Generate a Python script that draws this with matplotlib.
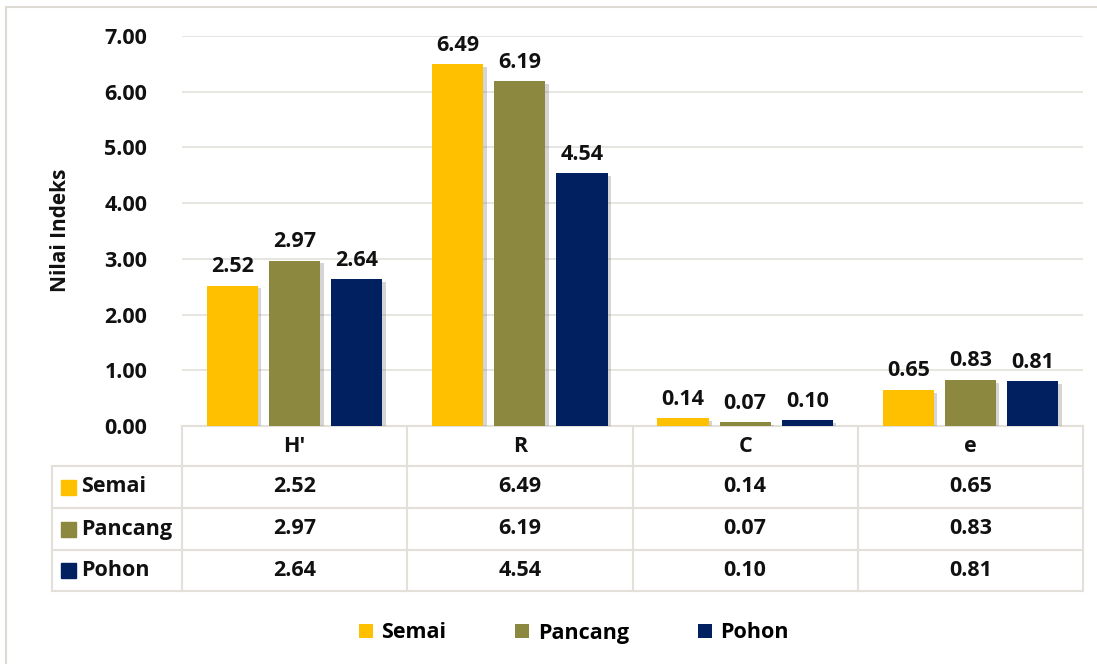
import matplotlib
matplotlib.use("Agg")
import matplotlib.pyplot as plt
import matplotlib.patheffects as pe
from matplotlib.patches import Rectangle
import numpy as np

plt.rcParams['font.family'] = ['Open Sans', 'DejaVu Sans']
plt.rcParams['font.weight'] = 'bold'

# data
categories = ["H'", "R", "C", "e"]
series = ["Semai", "Pancang", "Pohon"]
semai = [2.52, 6.49, 0.14, 0.65]
pancang = [2.97, 6.19, 0.07, 0.83]
pohon = [2.64, 4.54, 0.10, 0.81]
colors = ["#FFC000", "#8C8840", "#002060"]
yticks = [0, 1, 2, 3, 4, 5, 6, 7]

W, H = 1097, 664
fig = plt.figure(figsize=(W / 100, H / 100), dpi=100)
FS = 15.5
TXT = "#111111"

# pixel layout of plot area
left_px, right_px, top_px, bot_px = 182, 1083, 36, 426
ax = fig.add_axes([left_px / W, 1 - bot_px / H, (right_px - left_px) / W, (bot_px - top_px) / H])

x = np.arange(len(categories))
width = 0.227
step = 0.276
grid_col = "#E3E0DA"
shadow = [pe.SimplePatchShadow(offset=(2.5, -2), shadow_rgbFace="#777777", alpha=0.3), pe.Normal()]

for i, (name, vals) in enumerate(zip(series, [semai, pancang, pohon])):
    bars = ax.bar(x + (i - 1) * step, vals, width, color=colors[i], label=name, zorder=3)
    for b in bars:
        b.set_path_effects(shadow)
    ax.bar_label(bars, labels=["%.2f" % v for v in vals], padding=6, fontsize=FS,
                 fontweight="bold", color=TXT)

ax.set_xlim(-0.5, len(categories) - 0.5)
ax.set_ylim(0, 7)
ax.set_yticks(yticks)
ax.set_yticklabels(["%.2f" % t for t in yticks], fontsize=FS, fontweight="bold", color=TXT)
ax.tick_params(axis="y", length=0, pad=25)
ax.set_xticks([])
ax.yaxis.grid(True, color=grid_col, linewidth=1.2, zorder=0)
for s in ["top", "right", "left"]:
    ax.spines[s].set_visible(False)
ax.spines["bottom"].set_color(grid_col)
ax.spines["bottom"].set_linewidth(1.5)

fig.text(60 / W, 1 - 230 / H, "Nilai Indeks", rotation=90, ha="center", va="center",
         fontsize=15, fontweight="bold", color=TXT)

# data table below the axes
tr = ax.get_xaxis_transform()
ax_h = bot_px - top_px
row_edges_px = [426, 466, 508, 550, 591]
row_y = [-(r - bot_px) / ax_h for r in row_edges_px]
cell_w = (right_px - left_px) / len(categories)
label_left = -0.5 - (left_px - 52) / cell_w

line_kw = dict(color=grid_col, linewidth=1.5, clip_on=False, transform=tr)
for yy in row_y[1:]:
    ax.plot([label_left, len(categories) - 0.5], [yy, yy], **line_kw)
for xb in np.arange(len(categories) + 1) - 0.5:
    ax.plot([xb, xb], [row_y[0], row_y[-1]], **line_kw)
ax.plot([label_left, label_left], [row_y[1], row_y[-1]], **line_kw)

for c, cat in enumerate(categories):
    ax.text(c, (row_y[0] + row_y[1]) / 2, cat, transform=tr, ha="center", va="center",
            fontsize=FS, fontweight="bold", color=TXT)

for r, (name, vals) in enumerate(zip(series, [semai, pancang, pohon])):
    yc = (row_y[r + 1] + row_y[r + 2]) / 2
    for c, v in enumerate(vals):
        ax.text(c, yc, "%.2f" % v, transform=tr, ha="center", va="center",
                fontsize=FS, fontweight="bold", color=TXT)
    sq_x = label_left + 9 / cell_w
    ax.add_patch(Rectangle((sq_x, yc - 7.5 / ax_h), 15 / cell_w, 15 / ax_h, transform=tr,
                           color=colors[r], clip_on=False))
    ax.text(label_left + 29 / cell_w, yc, name, transform=tr, ha="left", va="center",
            fontsize=FS, fontweight="bold", color=TXT)

# legend
leg = fig.legend(loc="center", bbox_to_anchor=(574 / W, 1 - 633 / H), ncol=3, frameon=False,
                 handlelength=0.65, handleheight=0.65, handletextpad=0.4, columnspacing=3.2,
                 prop={"size": FS, "weight": "bold"})
for h in leg.legend_handles:
    h.set_path_effects([])

# outer border (only top and left visible, the rest is cropped)
fig.patches.append(Rectangle((6 / W, -0.05), 1.1, 1.05 - 7 / H, transform=fig.transFigure,
                             fill=False, edgecolor="#DDDAD4", linewidth=1.5))

fig.savefig("out.png", dpi=100)
